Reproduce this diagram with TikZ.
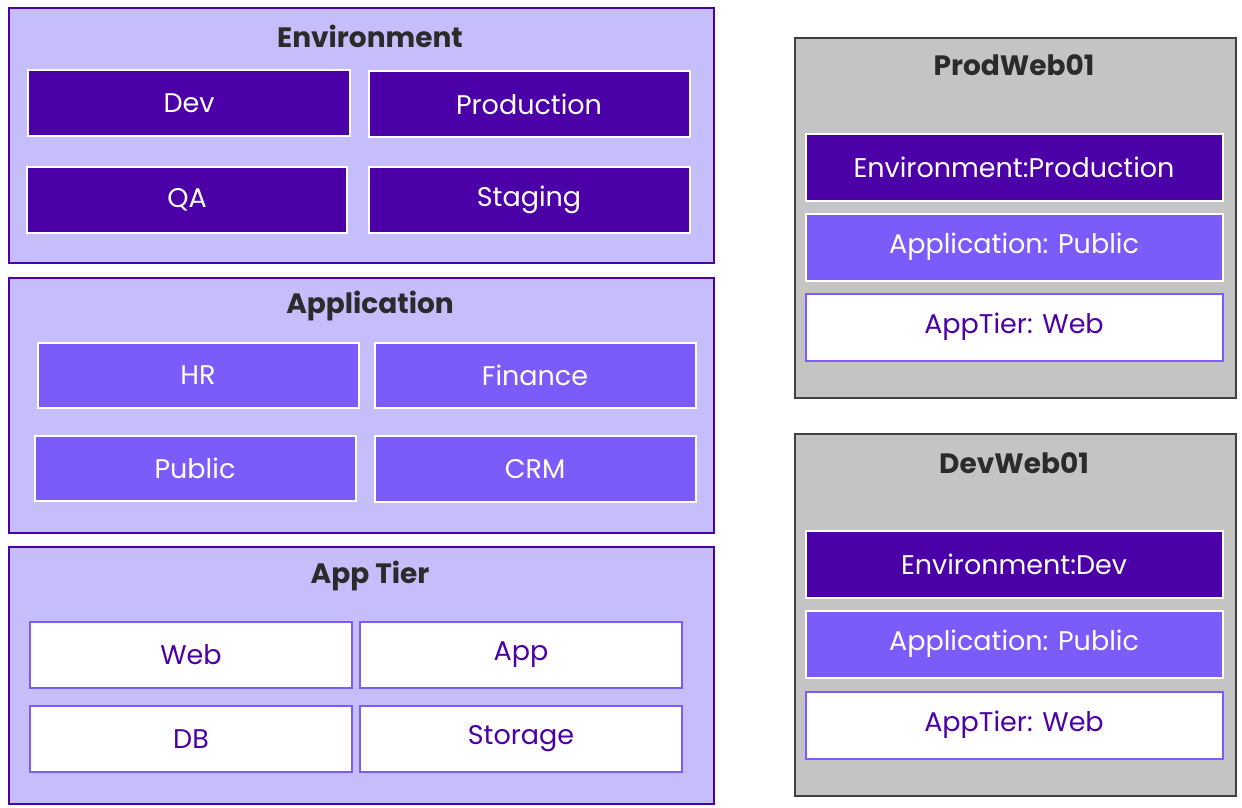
\documentclass[tikz,border=0pt]{standalone}
\usepackage{fontspec}
\setmainfont{Poppins}
\usetikzlibrary{positioning}
\definecolor{deep}{HTML}{4B00A8}
\definecolor{mid}{HTML}{7B5CFA}
\definecolor{pale}{HTML}{C5BEFA}
\definecolor{grey}{HTML}{C4C4C4}
\definecolor{ink}{HTML}{2B2B2B}
\begin{document}
\begin{tikzpicture}[x=1pt,y=-1pt]

	\tikzset{panel/.style = {draw=deep,line width=2pt,fill=pale}}
	\tikzset{host/.style = {draw=ink!90,line width=2pt,fill=grey}}
	\tikzset{title/.style = {font=\fontsize{28}{32}\selectfont\bfseries,text=ink}}
	\tikzset{tag/.style = {draw=white,line width=2pt,fill=deep,text=white,font=\fontsize{27}{30}\selectfont}}
	\tikzset{tagb/.style = {tag,fill=mid}}
	\tikzset{tagc/.style = {tag,draw=mid,fill=white,text=deep}}

	\useasboundingbox (0,0) rectangle (1242,808);

	% left panels
	\node[panel] (envp) at (8,7) [anchor=north west,minimum width=705,minimum height=255] {};
	\node[panel] (appp) at (8,277) [anchor=north west,minimum width=705,minimum height=255] {};
	\node[panel] (tierp) at (8,546) [anchor=north west,minimum width=705,minimum height=257] {};
	\node[title] (envt) at (370,36) {Environment};
	\node[title] (appt) at (370,306) {Application};
	\node[title] (tiert) at (370,576) {App Tier};

	\node[tag,minimum width=322,minimum height=65] (dev) at (189,103) {Dev};
	\node[tag,minimum width=321,minimum height=65] (prod) at (529,104) {Production};
	\node[tag,minimum width=320,minimum height=66] (qa) at (187,200) {QA};
	\node[tag,minimum width=321,minimum height=66] (stag) at (529,200) {Staging};

	\node[tagb,minimum width=321,minimum height=65] (hr) at (198,375) {HR};
	\node[tagb,minimum width=321,minimum height=65] (fin) at (535,375) {Finance};
	\node[tagb,minimum width=321,minimum height=65] (pub) at (195,468) {Public};
	\node[tagb,minimum width=321,minimum height=66] (crm) at (535,469) {CRM};

	\node[tagc,minimum width=322,minimum height=66] (web) at (191,655) {Web};
	\node[tagc,minimum width=322,minimum height=66] (app) at (521,655) {App};
	\node[tagc,minimum width=322,minimum height=66] (db) at (191,739) {DB};
	\node[tagc,minimum width=322,minimum height=66] (stor) at (521,739) {Storage};

	% hosts
	\node[host,anchor=north west,minimum width=441,minimum height=360] (prodh) at (794,37) {};
	\node[title] (prodt) at (1014,65) {ProdWeb01};
	\node[tag,minimum width=417,minimum height=67] (penv) at (1014,167) {Environment:Production};
	\node[tagb,minimum width=417,minimum height=67] (papp) at (1014,247) {Application: Public};
	\node[tagc,minimum width=417,minimum height=67] (ptier) at (1014,327) {AppTier: Web};

	\node[host,anchor=north west,minimum width=441,minimum height=362] (devh) at (794,433) {};
	\node[title] (devt) at (1014,463) {DevWeb01};
	\node[tag,minimum width=417,minimum height=67] (denv) at (1014,564) {Environment:Dev};
	\node[tagb,minimum width=417,minimum height=67] (dapp) at (1014,644) {Application: Public};
	\node[tagc,minimum width=417,minimum height=67] (dtier) at (1014,725) {AppTier: Web};
\end{tikzpicture}
\end{document}
